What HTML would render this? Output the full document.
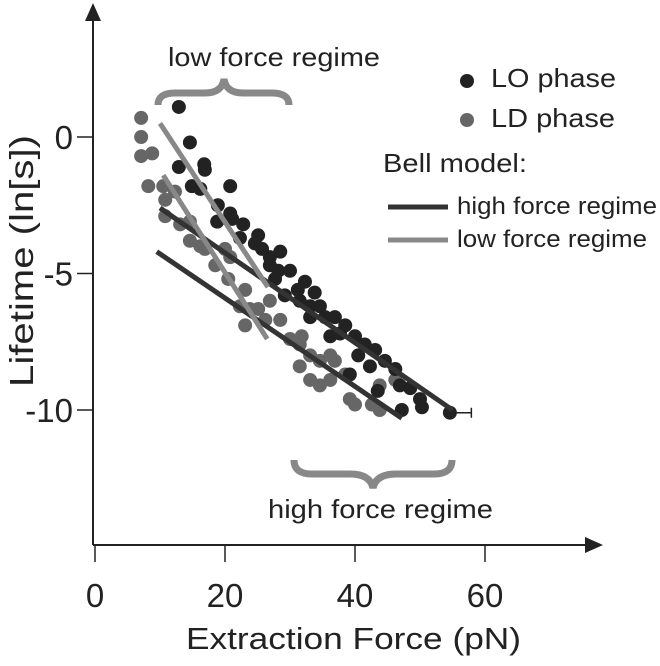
<!DOCTYPE html>
<html><head><meta charset="utf-8"><style>
body{margin:0;background:#fff}
svg text{font-family:"Liberation Sans",sans-serif;fill:#222}
</style></head><body>
<svg width="660" height="661" xmlns="http://www.w3.org/2000/svg">
<g id="axes"></g>
<g id="marks"></g>
<g id="deco">
  <path d="M158,105 Q158,93 175,93 L205,93 Q222,93 224,79 Q226,93 243,93 L272,93 Q289,93 289,105" fill="none" stroke="#888" stroke-width="7"/>
  <text x="168" y="66" font-size="26" textLength="212" lengthAdjust="spacingAndGlyphs">low force regime</text>
  <path d="M294,460 Q294,474 312,474 L350,474 Q370,474 373,488 Q376,474 396,474 L434,474 Q452,474 452,460" fill="none" stroke="#888" stroke-width="7"/>
  <text x="268" y="518" font-size="26" textLength="225" lengthAdjust="spacingAndGlyphs">high force regime</text>
  <circle cx="467" cy="81" r="7" fill="#222"/>
  <text x="491" y="87" font-size="26" textLength="125" lengthAdjust="spacingAndGlyphs">LO phase</text>
  <circle cx="467" cy="120" r="7" fill="#666"/>
  <text x="491" y="127" font-size="26" textLength="124" lengthAdjust="spacingAndGlyphs">LD phase</text>
  <text x="383" y="172" font-size="26" textLength="144" lengthAdjust="spacingAndGlyphs">Bell model:</text>
  <line x1="388" y1="207" x2="448" y2="207" stroke="#333" stroke-width="5"/>
  <text x="457" y="214" font-size="24" textLength="200" lengthAdjust="spacingAndGlyphs">high force regime</text>
  <line x1="388" y1="240" x2="448" y2="240" stroke="#888" stroke-width="5"/>
  <text x="457" y="247" font-size="24" textLength="190" lengthAdjust="spacingAndGlyphs">low force regime</text>
</g>
</svg>
<script>
const xTicks=[0,20,40,60];
const yTicks=[0,-5,-10];
const loForce=[12.9,14.6,16.8,16.9,12.9,20.8,14.9,16.2,18.9,20.8,21.1,18.8,22.8,25.1,22.3,24.6,25.7,26.9,28.5,26.9,28.2,30.0,27.7,31.2,32.3,33.8,29.2,31.5,33.1,34.6,35.4,36.9,38.5,33.1,36.2,37.7,40.0,41.5,43.1,40.5,42.3,39.2,44.6,46.2,46.9,48.5,43.5,50.3,50.0,47.2,54.6];
const loLife=[1.1,-0.2,-1.0,-1.2,-1.1,-1.8,-1.8,-1.9,-2.5,-2.8,-3.0,-3.1,-3.2,-3.6,-3.7,-3.9,-4.1,-4.4,-4.2,-4.7,-4.9,-4.9,-5.2,-5.6,-5.3,-5.7,-5.8,-6.0,-6.2,-6.2,-6.6,-6.6,-6.9,-6.6,-7.3,-7.2,-7.3,-7.6,-7.8,-8.0,-8.4,-8.7,-8.2,-8.5,-9.1,-9.2,-9.3,-9.9,-9.6,-10.0,-10.1];
const ldForce=[7.1,7.1,7.1,8.8,8.2,10.5,10.8,12.3,10.8,13.1,14.6,16.2,14.6,16.9,18.5,20.0,20.8,20.5,23.1,22.3,23.8,23.1,25.1,26.2,26.9,28.5,30.0,31.5,33.1,34.6,36.2,31.5,33.1,34.6,36.2,38.5,39.2,40.0,42.6,43.8,46.2,43.8,36.9,31.8];
const ldLife=[0.7,0.0,-0.7,-0.6,-1.8,-1.8,-2.3,-2.0,-2.9,-3.2,-3.8,-4.0,-3.1,-4.1,-4.7,-4.1,-4.4,-5.2,-5.6,-6.2,-6.3,-6.9,-6.3,-6.7,-6.0,-6.7,-7.4,-7.6,-8.0,-8.2,-8.0,-8.4,-8.9,-9.1,-8.9,-8.7,-9.6,-9.8,-9.8,-9.1,-8.9,-10.0,-8.2,-7.3];
const loErr=3.3;
const fitHighLO=[[10,-2.6],[55,-10.0]];
const fitHighLD=[[9.5,-4.2],[47.2,-10.3]];
const fitLowLO=[[10,0.5],[26.6,-5.5]];
const fitLowLD=[[10.5,-1.4],[26.5,-7.4]];
const NS='http://www.w3.org/2000/svg';
const X=f=>95+6.5*f, Y=l=>137-27.3*l;
function mk(t,a,p){const e=document.createElementNS(NS,t);for(const k in a)e.setAttribute(k,a[k]);p.appendChild(e);return e;}
const ax=document.getElementById('axes'), m=document.getElementById('marks');
let e=mk('line',{x1:93,y1:545,x2:590,y2:545,stroke:'#222','stroke-width':2},ax);


e=mk('path',{d:'M603,545 L585,537 L585,553 Z',fill:'#222'},ax);


e=mk('line',{x1:93,y1:545,x2:93,y2:18,stroke:'#222','stroke-width':2},ax);


e=mk('path',{d:'M93,3 L85,21 L101,21 Z',fill:'#222'},ax);


xTicks.forEach(v=>{
  e=mk('line',{x1:X(v),y1:546,x2:X(v),y2:562,stroke:'#222','stroke-width':1.5},ax);
  
  
  e=mk('text',{x:X(v),y:607,'font-size':33,'text-anchor':'middle'},ax);e.textContent=v;
  
  
});
yTicks.forEach(v=>{
  e=mk('line',{x1:77,y1:Y(v),x2:93,y2:Y(v),stroke:'#222','stroke-width':1.5},ax);
  
  
  e=mk('text',{x:73,y:Y(v)+12,'font-size':33,'text-anchor':'end'},ax);e.textContent=v;
  
  
});
e=mk('text',{x:186,y:649,'font-size':31,textLength:335,lengthAdjust:'spacingAndGlyphs'},ax);e.textContent='Extraction Force (pN)';


e=mk('text',{x:0,y:0,'font-size':33,textLength:252,lengthAdjust:'spacingAndGlyphs',transform:'translate(33,387) rotate(-90)'},ax);e.textContent='Lifetime (ln[s])';


ldForce.forEach((f,i)=>{e=mk('circle',{cx:X(f),cy:Y(ldLife[i]),r:7,fill:'#666'},m);
  
  });
loForce.forEach((f,i)=>{e=mk('circle',{cx:X(f),cy:Y(loLife[i]),r:7,fill:'#222'},m);
  
  });
const li=loForce.length-1, ex=X(loForce[li]+loErr), ey=Y(loLife[li]);
e=mk('path',{d:`M${X(loForce[li])},${ey} H${ex} M${ex},${ey-5} V${ey+5}`,stroke:'#222','stroke-width':1.5,fill:'none'},m);


[[fitHighLO,'#333','fit-high-lo'],[fitHighLD,'#333','fit-high-ld'],[fitLowLO,'#888','fit-low-lo'],[fitLowLD,'#888','fit-low-ld']].forEach(([p,c,n])=>{
  e=mk('line',{x1:X(p[0][0]),y1:Y(p[0][1]),x2:X(p[1][0]),y2:Y(p[1][1]),stroke:c,'stroke-width':5},m);
  
  
});
</script>
</body></html>
